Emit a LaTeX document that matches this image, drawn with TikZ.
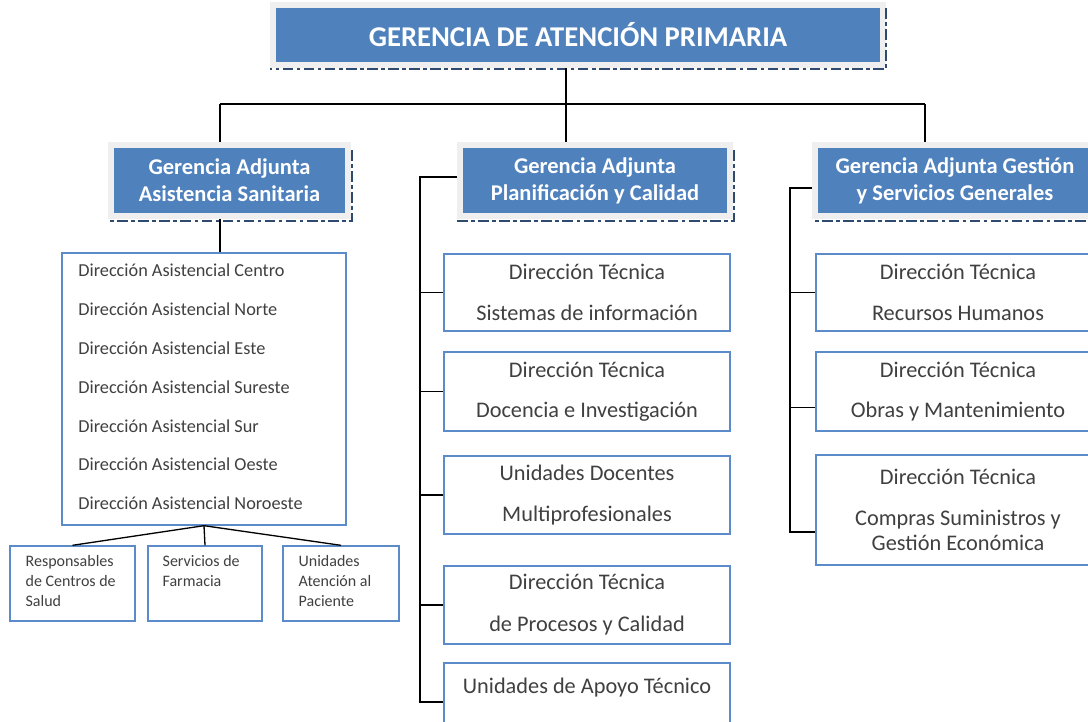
\documentclass[tikz,border=0pt]{standalone}
\usepackage{fontspec}
\setmainfont{Carlito}
\usetikzlibrary{calc}
\definecolor{hblue}{HTML}{4F81BD}
\definecolor{hframe}{HTML}{EFEFEF}
\definecolor{hdashc}{HTML}{2E4A6E}
\definecolor{bline}{HTML}{5B8BC9}
\definecolor{tgray}{HTML}{404040}
\tikzset{
  hdr/.style={fill=hblue, draw=hframe, line width=3.4pt, text=white, align=center, inner sep=0pt,
    font=\bfseries\fontsize{12.8}{15.3}\selectfont},
  hdashline/.style={draw=hdashc, line width=1.6pt, dash pattern=on 6pt off 2pt on 2pt off 2pt},
  ubox/.style={draw=bline, line width=0.8pt, fill=white, inner sep=0pt, text=tgray, align=center,
    font=\fontsize{12.7}{14.5}\selectfont},
  listtext/.style={text=tgray, align=left, inner sep=0pt, font=\fontsize{10.4}{22.1}\selectfont},
  stext/.style={text=tgray, align=left, inner sep=0pt, font=\fontsize{9.1}{11.3}\selectfont},
  conn/.style={draw=black, line width=0.75pt},
}
\begin{document}
\begin{tikzpicture}[x=0.02cm, y=-0.02cm]
\useasboundingbox (0,0) rectangle (1088,721);

% header boxes
\node[hdr, minimum width=12.2cm, minimum height=1.2cm, font=\bfseries\fontsize{16.3}{19}\selectfont] (top) at (578,35) {GERENCIA DE ATENCIÓN PRIMARIA};
\node[hdr, minimum width=4.74cm, minimum height=1.42cm] (g1) at (229.5,180.5) {Gerencia Adjunta\\Asistencia Sanitaria};
\node[hdr, minimum width=5.4cm, minimum height=1.42cm] (g2) at (595,180.5) {Gerencia Adjunta\\Planificación y Calidad};
\node[hdr, minimum width=5.6cm, minimum height=1.42cm] (g3) at (955,180.5) {Gerencia Adjunta Gestión\\y Servicios Generales};

% dashed shadow lines
\draw[hdashline] ([shift={(0,6)}]top.north east) -- ([shift={(0,1)}]top.south east) -- ([shift={(0,1)}]top.south west);
\foreach \g in {g1,g2,g3}
  \draw[hdashline] ([shift={(1,8)}]\g.north east) -- ([shift={(1,2)}]\g.south east) -- ([shift={(0,2)}]\g.south west);

% left branch
\node[ubox, minimum width=5.68cm, minimum height=5.44cm] (L) at (204,389) {};
\node[listtext, anchor=west] (Lt) at (78,387) {Dirección Asistencial Centro\\Dirección Asistencial Norte\\Dirección Asistencial Este\\Dirección Asistencial Sureste\\Dirección Asistencial Sur\\Dirección Asistencial Oeste\\Dirección Asistencial Noroeste};

\node[ubox, minimum width=2.5cm, minimum height=1.5cm] (A) at (72.5,583.5) {};
\node[ubox, minimum width=2.28cm, minimum height=1.5cm] (B) at (205,583.5) {};
\node[ubox, minimum width=2.32cm, minimum height=1.5cm] (C) at (341,583.5) {};
\node[stext, anchor=north west] (At) at ([shift={(16,10)}]A.north west) {Responsables\\de Centros de\\Salud};
\node[stext, anchor=north west] (Bt) at ([shift={(15,10)}]B.north west) {Servicios de\\Farmacia};
\node[stext, anchor=north west] (Ct) at ([shift={(16,10)}]C.north west) {Unidades\\Atención al\\Paciente};

% middle column
\node[ubox, minimum width=5.72cm, minimum height=1.54cm] (m1) at (587,292.5) {Dirección Técnica\\[8.5pt]Sistemas de información};
\node[ubox, minimum width=5.72cm, minimum height=1.58cm] (m2) at (587,391.5) {Dirección Técnica\\[8.5pt]Docencia e Investigación};
\node[ubox, minimum width=5.72cm, minimum height=1.56cm] (m3) at (587,495) {Unidades Docentes\\[8.5pt]Multiprofesionales};
\node[ubox, minimum width=5.72cm, minimum height=1.56cm] (m4) at (587,605) {Dirección Técnica\\[9.5pt]de Procesos y Calidad};
\node[ubox, minimum width=5.72cm, minimum height=1.56cm] (m5) at (587,702) {Unidades de Apoyo Técnico\\\strut};

% right column
\node[ubox, minimum width=5.68cm, minimum height=1.54cm] (r1) at (958,292.5) {Dirección Técnica\\[8.5pt]Recursos Humanos};
\node[ubox, minimum width=5.68cm, minimum height=1.58cm] (r2) at (958,391.5) {Dirección Técnica\\[8.5pt]Obras y Mantenimiento};
\node[ubox, minimum width=5.68cm, minimum height=2.2cm] (r3) at (958,510) {Dirección Técnica\\[8.8pt]Compras Suministros y\\Gestión Económica};

% connectors top
\coordinate (t0) at (566,104);
\coordinate (t1) at (220,104);
\coordinate (t3) at (925,104);
\draw[conn] (t0 |- top.south) -- (t0);
\draw[conn] (t1) -- (t3);
\draw[conn] (t1) -- (t1 |- g1.north);
\draw[conn] (t0) -- (t0 |- g2.north);
\draw[conn] (t3) -- (t3 |- g3.north);

% left connectors
\draw[conn] (t1 |- g1.south) -- (t1 |- L.north);
\draw[conn] (L.south) -- (A.north);
\draw[conn] (L.south) -- (B.north);
\draw[conn] (L.south) -- (C.north);

% middle bus
\coordinate (mb) at (420,177);
\draw[conn] (mb -| g2.west) -- (mb) |- (m5.west);
\foreach \m in {m1,m2,m3,m4}
  \draw[conn] (mb |- \m.west) -- (\m.west);

% right bus
\coordinate (rb) at (790,188);
\draw[conn] (rb -| g3.west) -- (rb) |- ([shift={(0,22)}]r3.west);
\draw[conn] (rb |- r1.west) -- (r1.west);
\draw[conn] ([shift={(0,16)}]r2.west -| rb) -- ([shift={(0,16)}]r2.west);
\end{tikzpicture}
\end{document}
